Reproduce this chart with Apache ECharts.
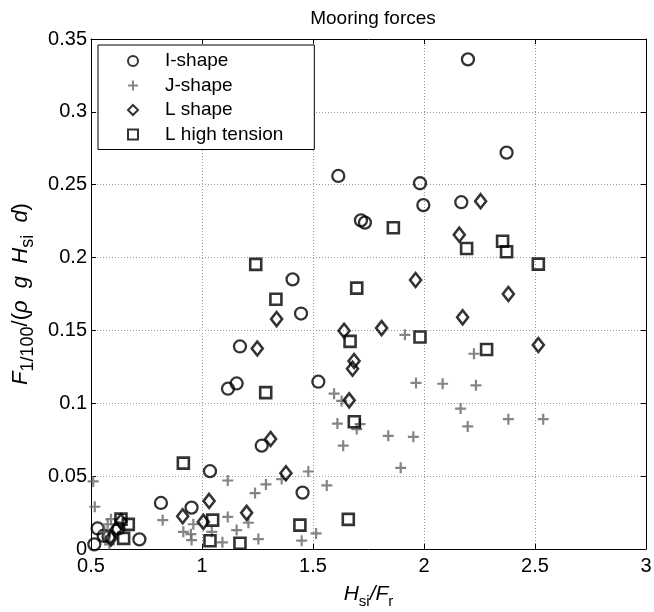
<!DOCTYPE html>
<html>
<head>
<meta charset="utf-8">
<script src="https://cdn.jsdelivr.net/npm/echarts@6/dist/echarts.min.js"></script>
<style>
  html, body { margin: 0; padding: 0; background: #fff; }
  #chart { width: 654px; height: 612px; }
</style>
</head>
<body>
<div id="chart"></div>
<script>
// values
const iShapeX = [2.198, 2.372, 1.982, 1.997, 2.168, 1.614, 1.716, 1.734, 1.408, 1.446, 1.171, 1.117, 1.156, 1.524, 1.269, 1.453, 1.036, 0.815, 0.953, 0.530, 0.557, 0.515, 0.579, 0.624, 0.718];
const iShapeY = [0.336, 0.272, 0.251, 0.236, 0.238, 0.256, 0.2255, 0.224, 0.185, 0.1616, 0.139, 0.110, 0.1136, 0.1148, 0.0709, 0.0387, 0.0534, 0.0316, 0.0284, 0.0141, 0.0091, 0.0032, 0.0084, 0.0141, 0.0066];

const jShapeX = [0.510, 0.517, 0.590, 0.575, 0.583, 0.560, 0.823, 0.961, 0.916, 0.950, 0.953, 1.044, 1.092, 1.116, 1.116, 1.156, 1.209, 1.239, 1.254, 1.288, 1.359, 1.449, 1.479, 1.514, 1.562, 1.595, 1.629, 1.610, 1.636, 1.697, 1.712, 1.839, 1.895, 1.914, 1.952, 1.964, 2.084, 2.165, 2.197, 2.225, 2.234, 2.380, 2.537];
const jShapeY = [0.0464, 0.029, 0.0205, 0.0169, 0.0032, 0.0118, 0.0198, 0.017, 0.0118, 0.0102, 0.0061, 0.0118, 0.0046, 0.047, 0.022, 0.013, 0.018, 0.0384, 0.0068, 0.0443, 0.048, 0.0057, 0.0532, 0.0107, 0.0436, 0.1066, 0.1016, 0.0861, 0.0709, 0.0823, 0.0857, 0.0777, 0.0557, 0.147, 0.077, 0.114, 0.1134, 0.0964, 0.0841, 0.134, 0.1123, 0.0891, 0.0891];

const lShapeX = [2.255, 2.159, 1.962, 2.380, 2.174, 1.809, 1.640, 1.336, 1.249, 2.515, 1.685, 1.678, 1.663, 1.309, 1.378, 1.032, 1.201, 0.913, 1.006, 0.613, 0.635, 0.590];
const lShapeY = [0.2387, 0.2157, 0.1846, 0.175, 0.159, 0.1516, 0.1498, 0.1578, 0.1376, 0.140, 0.129, 0.1237, 0.102, 0.0755, 0.052, 0.033, 0.0248, 0.0225, 0.0186, 0.0134, 0.019, 0.0073];

const lHighX = [1.242, 1.333, 1.697, 1.862, 1.667, 1.982, 2.192, 2.354, 2.372, 2.515, 2.282, 1.287, 1.686, 0.916, 1.048, 1.036, 1.171, 1.441, 1.659, 0.668, 0.647, 0.635];
const lHighY = [0.1953, 0.1714, 0.179, 0.2205, 0.1425, 0.1455, 0.2062, 0.2112, 0.204, 0.1955, 0.1369, 0.1073, 0.0873, 0.0589, 0.0198, 0.0057, 0.0039, 0.0164, 0.0203, 0.0169, 0.0073, 0.0205];

const seriesNames = ['I-shape', 'J-shape', 'L shape', 'L high tension'];

function pairs(xs, ys) {
  return xs.map((x, i) => [x, ys[i]]);
}

const font = 'Liberation Sans, Arial, sans-serif';
const plusPath = 'path://M4,0H6V4H10V6H6V10H4V6H0V4H4Z';
const hollow = 'rgba(255,255,255,0)';

const chart = echarts.init(document.getElementById('chart'), null, { renderer: 'canvas' });

const axisCommon = {
  axisLine: { show: true, onZero: false, lineStyle: { color: '#000', width: 1 } },
  axisTick: { show: true, inside: true, length: 5, lineStyle: { color: '#000' } }
};

const option = {
  backgroundColor: '#fff',
  animation: false,
  title: {
    text: 'Mooring forces',
    left: 368, top: 4, textAlign: 'center',
    textStyle: { fontFamily: font, fontSize: 19, fontWeight: 'normal', color: '#000' }
  },
  grid: { left: 91, right: 8, top: 39, bottom: 63, outerBoundsMode: 'none', containLabel: false },
  legend: {
    orient: 'vertical',
    left: 98, top: 45,
    padding: [4, 31, 3, 29],
    itemGap: 0.5,
    itemWidth: 10, itemHeight: 10,
    backgroundColor: '#fff',
    borderColor: '#000', borderWidth: 1,
    textStyle: { fontFamily: font, fontSize: 19, color: '#000', lineHeight: 24, padding: [0, 0, 0, 22] },
    data: seriesNames
  },
  xAxis: [{
    type: 'value', min: 0.5, max: 3, interval: 0.5, position: 'bottom',
    ...axisCommon,
    axisLabel: { fontFamily: font, fontSize: 20, color: '#000', margin: 7 },
    splitLine: { show: true, lineStyle: { color: '#999', type: [1, 2] } },
    name: '{i|H}{s|si}{i|/F}{s|r}',
    nameLocation: 'middle', nameGap: 31,
    nameTextStyle: {
      rich: {
        i: { fontFamily: font, fontSize: 21, fontStyle: 'italic', color: '#000' },
        s: { fontFamily: font, fontSize: 15, color: '#000', padding: [14, 0, 0, 0] }
      }
    }
  }, {
    type: 'value', min: 0.5, max: 3, interval: 0.5, position: 'top',
    ...axisCommon,
    axisLabel: { show: false },
    splitLine: { show: false }
  }],
  yAxis: [{
    type: 'value', min: 0, max: 0.35, interval: 0.05, position: 'left',
    ...axisCommon,
    axisLabel: { fontFamily: font, fontSize: 20, color: '#000', margin: 4 },
    splitLine: { show: true, lineStyle: { color: '#999', type: [1, 2] } },
    name: '{i|F}{s|1/100}{n|/(}{i|ρ  g  H}{s|si}{i|  d}{n|)}',
    nameLocation: 'middle', nameGap: 49, nameRotate: 90,
    nameTextStyle: {
      rich: {
        i: { fontFamily: font, fontSize: 22, fontStyle: 'italic', color: '#000' },
        n: { fontFamily: font, fontSize: 22, color: '#000' },
        s: { fontFamily: font, fontSize: 18, color: '#000', padding: [14, 0, 0, 0] }
      }
    }
  }, {
    type: 'value', min: 0, max: 0.35, interval: 0.05, position: 'right',
    ...axisCommon,
    axisLabel: { show: false },
    splitLine: { show: false }
  }],
  series: [{
    name: seriesNames[0], type: 'scatter',
    data: pairs(iShapeX, iShapeY),
    symbol: 'circle', symbolSize: 12,
    itemStyle: { color: hollow, borderColor: '#000', borderWidth: 2.3 }
  }, {
    name: seriesNames[1], type: 'scatter',
    data: pairs(jShapeX, jShapeY),
    symbol: plusPath, symbolSize: 11,
    itemStyle: { color: '#666', borderWidth: 0 }
  }, {
    name: seriesNames[2], type: 'scatter',
    data: pairs(lShapeX, lShapeY),
    symbol: 'diamond', symbolSize: [11, 14],
    itemStyle: { color: hollow, borderColor: '#000', borderWidth: 2.6 }
  }, {
    name: seriesNames[3], type: 'scatter',
    data: pairs(lHighX, lHighY),
    symbol: 'rect', symbolSize: 11,
    itemStyle: { color: hollow, borderColor: '#000', borderWidth: 2.6 }
  }]
};

chart.setOption(option);
</script>
</body>
</html>
